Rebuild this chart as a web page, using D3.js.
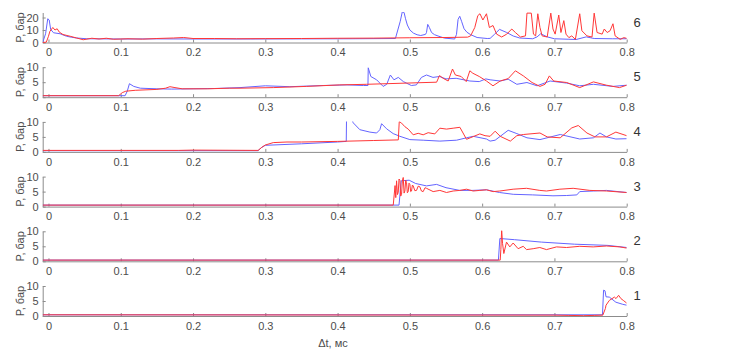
<!DOCTYPE html>
<html>
<head>
<meta charset="utf-8">
<script src="https://cdn.jsdelivr.net/npm/d3@7"></script>
<style>
  html, body { margin: 0; padding: 0; background: #fff; }
  svg { display: block; font-family: "Liberation Sans", Arial, sans-serif; }
</style>
</head>
<body>
<svg id="chart" width="744" height="349"></svg>
<script>
// ---------- DATA ----------
const xTicks = [0, 0.1, 0.2, 0.3, 0.4, 0.5, 0.6, 0.7, 0.8];
const xDomain = [-0.008, 0.8];
const panelLabels = ["6", "5", "4", "3", "2", "1"];
const yMaxes = [24, 10, 10, 10, 10, 10];
const yTicksTop = [0, 10, 20];
const yTicksRest = [0, 5, 10];
const yLabel = "P, бар";
const xLabel = "Δt, мс";

// Panel 6
const p6Blue = [[-0.008,0],[-0.004,7],[-0.001,19],[0.001,18],[0.003,10.5],[0.007,7.8],[0.016,7],[0.025,5],[0.032,4.2],[0.039,3.6],[0.053,3],[0.1,2.8],[0.15,2.9],[0.2,2.8],[0.28,2.8],[0.35,2.9],[0.42,3],[0.48,3.2],[0.4867,17],[0.4895,24.5],[0.492,24],[0.494,19],[0.4965,14],[0.5,10],[0.505,7.5],[0.51,6.2],[0.515,5.6],[0.5216,6.5],[0.523,8],[0.5247,14.5],[0.527,12],[0.53,8],[0.534,6.3],[0.539,5.2],[0.548,3.5],[0.562,2.8],[0.5645,6.5],[0.5667,18.5],[0.569,21],[0.5715,17],[0.575,11],[0.579,8.2],[0.584,6.3],[0.593,4],[0.607,3.2],[0.611,3.3],[0.617,6.5],[0.624,10.5],[0.634,8],[0.643,5.2],[0.652,3.6],[0.67,3],[0.676,4.5],[0.681,7],[0.69,4.5],[0.7,3],[0.72,2.6],[0.73,2.4],[0.744,4.5],[0.755,3.2],[0.78,3],[0.8,3]];
const p6Red = [[-0.008,0],[-0.003,0.3],[0.0,5],[0.002,9],[0.006,12],[0.009,10],[0.012,11],[0.015,8.3],[0.02,6.4],[0.03,5],[0.039,3.6],[0.048,2.2],[0.06,3.4],[0.07,2.8],[0.08,3.4],[0.09,2.6],[0.11,3],[0.13,2.7],[0.15,3.2],[0.173,3.6],[0.187,4],[0.2,3.2],[0.23,3.2],[0.26,3],[0.3,3.1],[0.35,3.2],[0.4,3.4],[0.45,3.5],[0.5,3.8],[0.55,4],[0.58,4.3],[0.584,5.3],[0.5898,12],[0.594,21.5],[0.597,23],[0.601,18],[0.606,23],[0.61,12],[0.615,13.6],[0.62,6.7],[0.627,4.4],[0.634,6.7],[0.641,10.8],[0.646,8],[0.653,4.4],[0.66,5.3],[0.662,23.5],[0.668,23.5],[0.671,6.7],[0.674,5.3],[0.677,23],[0.68,12],[0.683,5.3],[0.69,4.4],[0.695,23.5],[0.698,10.8],[0.701,6.7],[0.706,22],[0.709,8],[0.713,17.5],[0.716,6.7],[0.72,3.9],[0.724,5.3],[0.729,2.5],[0.735,23],[0.738,9.4],[0.745,5.3],[0.752,4.4],[0.755,23.5],[0.759,8],[0.766,6.7],[0.769,10.8],[0.773,8],[0.777,9.4],[0.781,15],[0.784,5.3],[0.791,2.5],[0.796,3.9],[0.8,3.3]];

// Panel 5
const p5Blue = [[-0.008,0.5],[0.106,0.5],[0.109,2],[0.112,4.5],[0.118,3.6],[0.127,3],[0.15,2.8],[0.17,2.7],[0.2,2.8],[0.23,2.9],[0.265,3.2],[0.3,3.8],[0.334,3.5],[0.38,3.9],[0.413,4.1],[0.436,3.9],[0.442,3.9],[0.4424,9.8],[0.446,6.9],[0.454,5.8],[0.463,3.6],[0.468,4.3],[0.473,7.4],[0.478,5.8],[0.484,6.6],[0.491,5.2],[0.502,3.9],[0.509,4.1],[0.516,6.6],[0.523,7.4],[0.532,6.6],[0.541,6.9],[0.55,6.1],[0.564,6.3],[0.583,5.4],[0.596,5.2],[0.605,6.1],[0.611,5.8],[0.625,5.4],[0.636,6],[0.648,4.3],[0.662,4.9],[0.676,3.8],[0.694,5.4],[0.717,4.7],[0.735,3.8],[0.754,4.3],[0.781,3.6],[0.8,4]];
const p5Red = [[-0.008,0.5],[0.097,0.5],[0.102,1.5],[0.107,2],[0.12,2.3],[0.15,2.6],[0.162,3],[0.168,3.5],[0.175,3.2],[0.185,2.8],[0.22,2.8],[0.25,3],[0.265,3],[0.311,3.2],[0.357,3.6],[0.403,4.1],[0.44,4.3],[0.495,4.7],[0.537,5],[0.541,7.2],[0.546,6.3],[0.553,5.4],[0.559,9.4],[0.563,7.4],[0.571,6.9],[0.578,5.2],[0.583,8.8],[0.587,8],[0.596,6.9],[0.606,5.4],[0.615,3.8],[0.625,5.4],[0.636,6.2],[0.646,8.8],[0.657,7.1],[0.669,4.9],[0.68,3.6],[0.687,4.3],[0.693,7.1],[0.699,5.4],[0.717,4.9],[0.735,3.2],[0.754,5.1],[0.772,4],[0.79,3.2],[0.8,4]];

// Panel 4
const p4Blue = [[-0.008,0.4],[0.29,0.4],[0.295,1.5],[0.3,2.2],[0.35,2.7],[0.4,3.3],[0.412,3.5],[0.4125,14],[0.418,12],[0.4216,9.7],[0.4308,7.4],[0.4447,6.6],[0.454,6.3],[0.4585,7.4],[0.4609,9.4],[0.4678,7.7],[0.4769,6.1],[0.4862,5.2],[0.5,4.1],[0.5184,3.9],[0.5415,3.6],[0.5646,3.9],[0.5784,4.7],[0.5876,5.2],[0.606,4.3],[0.611,3.6],[0.618,3.9],[0.636,7.2],[0.648,6.1],[0.662,4.7],[0.68,4.1],[0.708,5.8],[0.735,4.3],[0.754,4.7],[0.763,6.3],[0.772,5],[0.785,4.3],[0.8,4.4]];
const p4Red = [[-0.008,0.5],[0.18,0.5],[0.2,0.6],[0.29,0.5],[0.295,1.5],[0.3,2.3],[0.311,3.1],[0.33,3.3],[0.35,3.3],[0.4,3.5],[0.45,3.8],[0.484,4],[0.4853,10.1],[0.4885,9.6],[0.4931,8.4],[0.4977,7.6],[0.5046,5.7],[0.5115,6.2],[0.5184,5.7],[0.5253,6.4],[0.5345,6],[0.5415,7.9],[0.5507,7.6],[0.5599,7.9],[0.5692,8.2],[0.5784,4.2],[0.5876,5.1],[0.5968,6],[0.604,5.4],[0.611,5.2],[0.618,6.9],[0.625,5.2],[0.639,3.6],[0.648,5.4],[0.657,5.8],[0.68,6.3],[0.69,5],[0.708,4.7],[0.724,8],[0.733,8.8],[0.745,6.3],[0.756,5],[0.772,5],[0.785,6.6],[0.8,5.4]];

// Panel 3
const p3Blue = [[-0.008,0.5],[0.485,0.5],[0.488,8.6],[0.499,8.8],[0.508,7.7],[0.523,6.9],[0.537,7.4],[0.55,6.3],[0.569,5.4],[0.587,5.4],[0.606,5.6],[0.624,4.7],[0.643,4.1],[0.67,3.9],[0.698,3.6],[0.717,3.7],[0.731,3.9],[0.735,5],[0.754,5.2],[0.772,5.4],[0.8,4.7]];
const p3Red = [[-0.008,0.5],[0.477,0.5],[0.4795,7],[0.4805,3],[0.4816,8.6],[0.4828,4],[0.4839,4.7],[0.485,9.2],[0.4862,8.8],[0.4873,3.5],[0.4885,4.1],[0.4896,8.5],[0.4908,9.7],[0.492,4.5],[0.4931,5.2],[0.4942,8.8],[0.4954,8],[0.4965,4.6],[0.4977,5],[0.4988,7.8],[0.5,7.4],[0.5011,5],[0.5023,5.2],[0.5035,7.2],[0.5046,6.9],[0.5069,5.3],[0.5092,5.4],[0.5115,6.8],[0.5138,6.6],[0.516,5.2],[0.5184,5],[0.521,6.3],[0.523,6.1],[0.5322,5],[0.5415,5.4],[0.5507,4.7],[0.5599,5.2],[0.5692,5.4],[0.5784,5.8],[0.5876,5.2],[0.5968,5.4],[0.606,5.6],[0.6152,5],[0.6245,5.2],[0.6429,5.8],[0.6614,6.1],[0.6798,5.4],[0.689,5.2],[0.7075,5.8],[0.7259,6.1],[0.749,5.4],[0.772,5.2],[0.8,4.7]];

// Panel 2
const p2Blue = [[-0.008,0.4],[0.6225,0.4],[0.6245,7.6],[0.645,7.2],[0.682,6.4],[0.728,5.7],[0.774,5.3],[0.8,4.6]];
const p2Red = [[-0.008,0.4],[0.625,0.4],[0.6259,4],[0.627,10.5],[0.6282,6],[0.63,2.6],[0.6337,6.4],[0.6383,4.8],[0.6429,6.1],[0.6498,4.2],[0.6568,5],[0.6614,3.9],[0.6706,4.2],[0.6798,4.6],[0.689,3.9],[0.7029,4.8],[0.7167,4.6],[0.7351,5],[0.7536,4.8],[0.772,5.1],[0.7905,4.8],[0.8,4.4]];

// Panel 1
const p1Blue = [[-0.008,0.4],[0.7665,0.4],[0.768,8.6],[0.77,8.4],[0.7714,6.4],[0.776,6.3],[0.785,4.6],[0.7945,3.9],[0.8,3.6]];
const p1Red = [[-0.008,0.4],[0.7,0.3],[0.72,0.2],[0.74,0.1],[0.755,0.2],[0.767,0.3],[0.7705,2.5],[0.7714,3.6],[0.776,5.2],[0.783,6.3],[0.7852,5.8],[0.7888,6.9],[0.792,5.8],[0.7953,5.2],[0.8,4.3]];

const blueSeries = [p6Blue, p5Blue, p4Blue, p3Blue, p2Blue, p1Blue];
const redSeries = [p6Red, p5Red, p4Red, p3Red, p2Red, p1Red];

// ---------- LAYOUT ----------
const svg = d3.select("#chart");
const left = 42.7, right = 626.7;
const panelH = 30, firstBottom = 42.5, step = 54.7;
const axisColor = "#8c8c8c", textColor = "#4d4d4d";
const blueColor = "rgb(100,100,255)", redColor = "rgb(255,55,55)";

const x = d3.scaleLinear().domain(xDomain).range([left, right]);

panelLabels.forEach((lab, i) => {
  const bottom = firstBottom + i * step;
  const top = bottom - panelH;
  const y = d3.scaleLinear().domain([0, yMaxes[i]]).range([bottom, top]);
  const g = svg.append("g");

  const clipId = "clip" + i;
  svg.append("clipPath").attr("id", clipId)
    .append("rect").attr("x", left).attr("y", top - 0.5)
    .attr("width", right - left).attr("height", panelH + 1);

  const xa = g.append("g").attr("transform", `translate(0,${bottom})`)
    .call(d3.axisBottom(x).tickValues(xTicks).tickSizeInner(-3).tickSizeOuter(0).tickPadding(6)
      .tickFormat(d3.format(".1~f")));
  const ya = g.append("g").attr("transform", `translate(${left},0)`)
    .call(d3.axisLeft(y).tickValues(i === 0 ? yTicksTop : yTicksRest).tickSizeInner(-3).tickSizeOuter(0).tickPadding(4));
  [xa, ya].forEach(a => {
    a.select(".domain").attr("stroke", axisColor);
    a.selectAll(".tick line").attr("stroke", axisColor);
    a.selectAll(".tick text").attr("fill", textColor).attr("font-size", 11)
      .attr("font-family", "'Liberation Sans', Arial, sans-serif");
  });

  const line = d3.line().x(d => x(d[0])).y(d => y(d[1]));
  const plot = g.append("g").attr("clip-path", `url(#${clipId})`);
  plot.append("path").datum(blueSeries[i]).attr("d", line)
    .attr("fill", "none").attr("stroke", blueColor).attr("stroke-width", 1).attr("stroke-linejoin", "round");
  plot.append("path").datum(redSeries[i]).attr("d", line)
    .attr("fill", "none").attr("stroke", redColor).attr("stroke-width", 1).attr("stroke-linejoin", "round");

  g.append("text")
    .attr("transform", `translate(20,${(top + bottom) / 2}) rotate(-90)`)
    .attr("text-anchor", "middle").attr("dominant-baseline", "central")
    .attr("font-size", 11).attr("fill", textColor).text(yLabel);

  g.append("text").attr("x", 637).attr("y", bottom - 16)
    .attr("text-anchor", "middle").attr("font-size", 13).attr("fill", "#333").text(lab);
});

svg.append("text").attr("x", 333).attr("y", 347)
  .attr("text-anchor", "middle").attr("font-size", 11).attr("fill", textColor).text(xLabel);
</script>
</body>
</html>
